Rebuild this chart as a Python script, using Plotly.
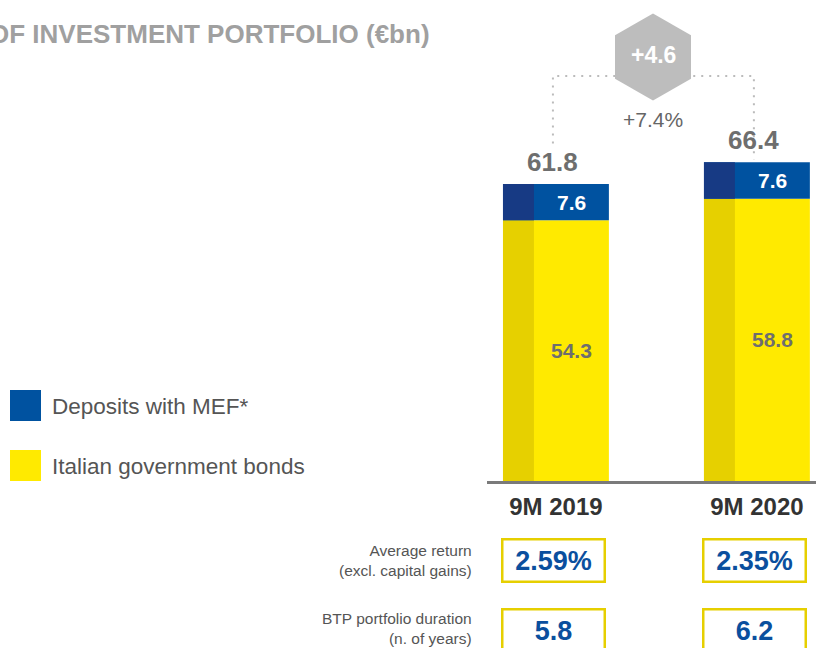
import plotly.graph_objects as go

# Portfolio composition by period (€bn)
categories = ["9M 2019", "9M 2020"]
govt_bonds = [54.3, 58.8]
mef_deposits = [7.6, 7.6]
totals = [61.8, 66.4]          # reported totals (segments are rounded)
avg_return = [2.59, 2.35]      # % excl. capital gains
btp_duration = [5.8, 6.2]      # years

delta = round(totals[1] - totals[0], 1)
delta_pct = delta / totals[0] * 100

W, H = 816, 648
FONT = "Liberation Sans"
BLUE, BLUE_DARK = "#0052A0", "#173A84"
YELLOW, YELLOW_DARK = "#FFEA00", "#E6D000"
LABEL_GREY = "#6E6E6E"
BOX_YELLOW = "#E6CF00"
VALUE_BLUE = "#0A4F9E"

def px(x):
    return x / W

def py(y):
    return 1 - y / H

BAR_W = 0.527
STRIP_W = 0.154
OFF = -BAR_W / 2

fig = go.Figure()
fig.add_trace(go.Bar(x=categories, y=govt_bonds, base=[0, 0], width=BAR_W, offset=OFF,
                     marker=dict(color=YELLOW, line=dict(width=0)), name="Italian government bonds"))
fig.add_trace(go.Bar(x=categories, y=govt_bonds, base=[0, 0], width=STRIP_W, offset=OFF,
                     marker=dict(color=YELLOW_DARK, line=dict(width=0)), showlegend=False))
fig.add_trace(go.Bar(x=categories, y=mef_deposits, base=govt_bonds, width=BAR_W, offset=OFF,
                     marker=dict(color=BLUE, line=dict(width=0)), name="Deposits with MEF*"))
fig.add_trace(go.Bar(x=categories, y=mef_deposits, base=govt_bonds, width=STRIP_W, offset=OFF,
                     marker=dict(color=BLUE_DARK, line=dict(width=0)), showlegend=False))

ann = []

def note(**kw):
    kw.setdefault("showarrow", False)
    kw.setdefault("xanchor", "center")
    kw.setdefault("yanchor", "middle")
    ann.append(kw)

# Segment and total labels
for c, b, d, t in zip(categories, govt_bonds, mef_deposits, totals):
    note(x=c, y=b / 2, xref="x", yref="y", text=f"{b:.1f}", xshift=16,
         font=dict(family=FONT, size=21, color=LABEL_GREY, weight="bold"))
    note(x=c, y=b + d / 2, xref="x", yref="y", text=f"{d:.1f}", xshift=16,
         font=dict(family=FONT, size=21, color="white", weight="bold"))
    note(x=c, y=b + d, xref="x", yref="y", text=f"{t:.1f}", yshift=22, xshift=-3,
         font=dict(family=FONT, size=26, color=LABEL_GREY, weight="bold"))

# Growth badge
hx, hy, hw, hh = 653, 57, 38, 43.5
hex_pts = [(hx, hy - hh), (hx + hw, hy - hh / 2), (hx + hw, hy + hh / 2),
           (hx, hy + hh), (hx - hw, hy + hh / 2), (hx - hw, hy - hh / 2)]
hex_path = "M " + " L ".join(f"{px(x):.5f} {py(y):.5f}" for x, y in hex_pts) + " Z"

bracket_top = 84.4
shapes = [
    dict(type="path", xref="x", yref="y",
         path=f"M -0.015 70.3 L -0.015 {bracket_top} L 0.985 {bracket_top} L 0.985 {totals[1] + 0.6}",
         line=dict(color="#BBBBBB", width=2, dash="2px,6px")),
    dict(type="path", xref="paper", yref="paper", path=hex_path,
         fillcolor="#BDBDBD", line=dict(width=0)),
]
note(x=px(hx), y=py(55), xref="paper", yref="paper", text=f"+{delta:.1f}",
     font=dict(family=FONT, size=23, color="white", weight="bold"))
note(x=px(hx), y=py(120), xref="paper", yref="paper", text=f"+{delta_pct:.1f}%",
     font=dict(family=FONT, size=21, color="#666666"))

# Title
note(x=px(432), y=py(34), xref="paper", yref="paper", xanchor="right",
     text="OF INVESTMENT PORTFOLIO (€bn)",
     font=dict(family=FONT, size=26, color="#A0A0A0", weight="bold"))

# Legend
legend_items = [("Deposits with MEF*", BLUE, 390), ("Italian government bonds", YELLOW, 450)]
for label, col, top in legend_items:
    shapes.append(dict(type="rect", xref="paper", yref="paper",
                       x0=px(10), x1=px(41), y0=py(top + 31), y1=py(top),
                       fillcolor=col, line=dict(width=0)))
    note(x=px(50), y=py(top + 16), xref="paper", yref="paper", xanchor="left",
         text=label, font=dict(family=FONT, size=22.5, color="#555555"))

# KPI rows: (label, values, label centre, box centre, box height)
rows = [("Average return<br>(excl. capital gains)", [f"{v:.2f}%" for v in avg_return], 560, 560, 43),
        ("BTP portfolio duration<br>(n. of years)", [f"{v:.1f}" for v in btp_duration], 628, 631, 44)]
for label, vals, yl, yc, bh in rows:
    note(x=px(474), y=py(yl), xref="paper", yref="paper", xanchor="right",
         align="right", text=label, font=dict(family=FONT, size=15.5, color="#555555"))
    for c, v in zip(categories, vals):
        note(x=c, y=py(yc), xref="x", yref="paper", xshift=-2, text=v,
             width=100, height=bh - 3, borderpad=0,
             bordercolor=BOX_YELLOW, borderwidth=2.5,
             font=dict(family=FONT, size=27, color=VALUE_BLUE, weight="bold"))

fig.update_layout(
    width=W, height=H,
    margin=dict(l=0, r=0, t=0, b=0),
    paper_bgcolor="white", plot_bgcolor="white",
    barmode="overlay", showlegend=False,
    xaxis=dict(domain=[px(487), 1], range=[-0.343, 1.294], showgrid=False, zeroline=False,
               showline=True, linecolor="#7A7A7A", linewidth=3, ticks="",
               tickfont=dict(family=FONT, size=24, color="#333333", weight="bold"),
               ticklabelstandoff=2),
    yaxis=dict(domain=[py(481), 1], range=[0, 481 / 4.8], visible=False),
    shapes=shapes, annotations=ann,
)

fig.write_html("out.html")
